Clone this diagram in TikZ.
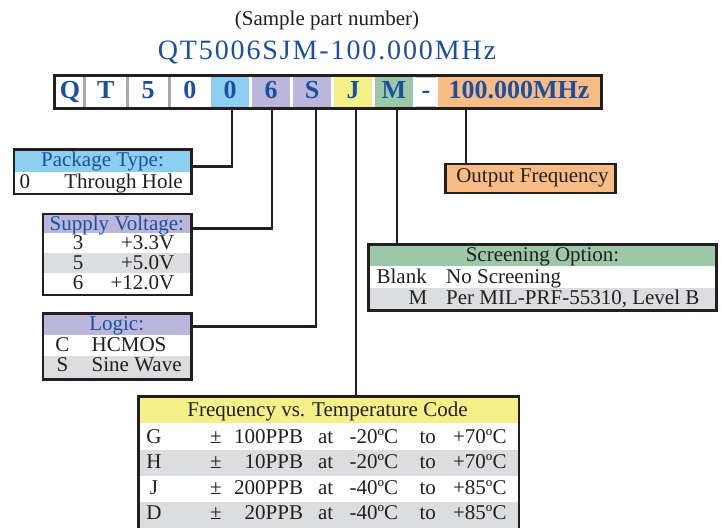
\documentclass[tikz,border=0pt]{standalone}
\usepackage{fontspec}
\setmainfont{Liberation Serif}
\newfontfamily\pnfont[LetterSpace=6.7]{Liberation Serif}

\definecolor{ink}{RGB}{35,31,32}
\definecolor{tblue}{RGB}{28,80,158}
\definecolor{cblue}{RGB}{141,207,240}
\definecolor{cpurple}{RGB}{186,183,218}
\definecolor{cyellow}{RGB}{243,240,138}
\definecolor{cgreen}{RGB}{157,200,168}
\definecolor{corange}{RGB}{249,188,133}
\definecolor{rowgray}{RGB}{220,221,222}
\definecolor{sepgray}{RGB}{167,169,172}

\tikzset{
  wire/.style={draw=ink, line width=2.6pt},
  frame/.style={draw=ink, line width=2.5pt, inner sep=0pt},
  lbl/.style={inner sep=0pt, text=ink, font=\fontsize{21}{25}\selectfont},
  hdr/.style={lbl, text=tblue},
  cell/.style={inner sep=0pt, minimum height=30.6pt, text height=19pt, text depth=6pt,
    text=tblue, font=\fontsize{26}{30}\selectfont\bfseries},
  sepline/.style={draw=sepgray, line width=2.6pt},
  rimline/.style={draw=sepgray!70, line width=1pt}
}

\begin{document}
\begin{tikzpicture}[x=1pt,y=-1pt]
\clip (0,0) rectangle (722,527);
\fill[white] (0,0) rectangle (722,527);

% heading
\node[lbl, anchor=base] (title) at (327,26) {(Sample part number)};
\node[anchor=base, inner sep=0pt, text=tblue, font=\pnfont\fontsize{28}{32}\selectfont] (pn) at (327,59.3) {QT5006SJM-100.000MHz};

% part number bar
\node[cell, minimum width=29pt]   (c1)  at (70,92)     {Q};
\node[cell, minimum width=42.5pt] (c2)  at (105.75,92) {T};
\node[cell, minimum width=42pt]   (c3)  at (148,92)    {5};
\node[cell, minimum width=41.5pt] (c4)  at (189.75,92) {0};
\node[cell, fill=cblue,   minimum width=38pt] (c5) at (230,92) {0};
\node[cell, fill=cpurple, minimum width=38pt] (c6) at (271,92) {6};
\node[cell, fill=cpurple, minimum width=38pt] (c7) at (312,92) {S};
\node[cell, fill=cyellow, minimum width=38pt] (c8) at (353,92) {J};
\node[cell, fill=cgreen,  minimum width=38pt] (c9) at (394,92) {M};
\node[cell, minimum width=20pt]   (c10) at (426,92)    {-};
\node[cell, fill=corange, minimum width=162pt] (c11) at (519,92) {100.000MHz};
\draw[sepline] (c1.north east) -- (c1.south east);
\draw[sepline] (c2.north east) -- (c2.south east);
\draw[sepline] (c3.north east) -- (c3.south east);
\draw[rimline] ([yshift=-1pt]c10.north west) -- ([yshift=-1pt]c10.north east);
\draw[rimline] ([yshift=1pt]c10.south west) -- ([yshift=1pt]c10.south east);
\node[frame, line width=2.7pt, minimum width=546.6pt, minimum height=33.4pt] (bar) at (328,92) {};

% leader start points on the bar
\coordinate (k5)  at (232,108.7);
\coordinate (k6)  at (272,108.7);
\coordinate (k7)  at (316,108.7);
\coordinate (k8)  at (356,108.7);
\coordinate (k9)  at (397,108.7);
\coordinate (k11) at (466,108.7);

% table fills
\fill[cblue]   (13.8,149.7) rectangle (191.3,171.7);
\fill[cpurple] (42.8,213.8) rectangle (191.3,233.3);
\fill[rowgray] (42.8,253.3) rectangle (191.3,273.3);
\fill[cpurple] (42.8,313.7) rectangle (191.3,335);
\fill[rowgray] (42.8,355.7) rectangle (191.3,379.5);
\fill[corange] (445.5,163.8) rectangle (615.3,192.8);
\fill[cgreen]  (368.7,244.7) rectangle (716.3,265.7);
\fill[rowgray] (368.7,287.7) rectangle (716.3,310.7);
\fill[cyellow] (138.7,396.5) rectangle (519.2,423.3);
\fill[rowgray] (138.7,450)   rectangle (519.2,476);
\fill[rowgray] (138.7,501.7) rectangle (519.2,545);

% table frames
\node[frame, minimum width=177.5pt, minimum height=44.3pt]  (pkg) at (102.55,171.85) {};
\node[frame, minimum width=148.5pt, minimum height=81.2pt]  (sup) at (117.05,254.4) {};
\node[frame, minimum width=148.5pt, minimum height=65.8pt]  (log) at (117.05,346.6) {};
\node[frame, minimum width=169.8pt, minimum height=29pt]    (out) at (530.4,178.3) {};
\node[frame, minimum width=347.6pt, minimum height=66pt]    (scr) at (542.5,277.7) {};
\node[frame, minimum width=380.5pt, minimum height=148.5pt] (frq) at (328.95,470.75) {};

% connectors
\draw[wire] (pkg.north east) ++(0,18) -| (k5);
\draw[wire] (sup.north east) ++(0,16) -| (k6);
\draw[wire] (log.north east) ++(0,14) -| (k7);
\draw[wire] (k8) -- (k8 |- frq.north);
\draw[wire] (k9) -- (k9 |- scr.north);
\draw[wire] (k11) -- (k11 |- out.north);

% Package Type
\node[hdr, anchor=base] (pkgh) at (102.5,166.7) {Package Type:};
\node[lbl, anchor=base west] (pkga) at (19.5,188.3) {0};
\node[lbl, anchor=base east] (pkgb) at (183,188.3) {Through Hole};

% Supply Voltage
\node[hdr, anchor=base] (suph) at (116.8,230) {Supply Voltage:};
\node[lbl, anchor=base] (sup1a) at (78,249.3) {3};
\node[lbl, anchor=base east] (sup1b) at (174.5,249.3) {+3.3V};
\node[lbl, anchor=base] (sup2a) at (78,269.3) {5};
\node[lbl, anchor=base east] (sup2b) at (174.5,269.3) {+5.0V};
\node[lbl, anchor=base] (sup3a) at (78,289) {6};
\node[lbl, anchor=base east] (sup3b) at (174.5,289) {+12.0V};

% Logic
\node[hdr, anchor=base] (logh) at (116.7,330) {Logic:};
\node[lbl, anchor=base] (log1a) at (62.5,351) {C};
\node[lbl, anchor=base west] (log1b) at (91.5,351) {HCMOS};
\node[lbl, anchor=base] (log2a) at (62.5,371.7) {S};
\node[lbl, anchor=base west] (log2b) at (91.5,371.7) {Sine Wave};

% Output Frequency
\node[lbl, anchor=base] (outt) at (532.4,182.3) {Output Frequency};

% Screening Option
\node[lbl, anchor=base] (scrh) at (542.5,261.7) {Screening Option:};
\node[lbl, anchor=base east] (scr1a) at (427,283.3) {Blank};
\node[lbl, anchor=base west] (scr1b) at (446,283.3) {No Screening};
\node[lbl, anchor=base east] (scr2a) at (427.5,304) {M};
\node[lbl, anchor=base west] (scr2b) at (446,304) {Per MIL-PRF-55310, Level B};

% Frequency vs. Temperature Code
\node[lbl, anchor=base] (frqh) at (327.5,416.7) {Frequency vs. Temperature Code};
\foreach \code/\ppb/\tlo/\thi/\yy [count=\i] in
  {G/100PPB/-20ºC/+70ºC/443.3, H/10PPB/-20ºC/+70ºC/468.3,
   J/200PPB/-40ºC/+85ºC/494, D/20PPB/-40ºC/+85ºC/519.3}{
  \node[lbl, anchor=base] (fc\i) at (154,\yy) {\code};
  \node[lbl, anchor=base] (fpm\i) at (216,\yy) {±};
  \node[lbl, anchor=base east] (fp\i) at (303.3,\yy) {\ppb};
  \node[lbl, anchor=base] (fat\i) at (325.7,\yy) {at};
  \node[lbl, anchor=base east] (flo\i) at (398.3,\yy) {\tlo};
  \node[lbl, anchor=base] (fto\i) at (427.7,\yy) {to};
  \node[lbl, anchor=base east] (fhi\i) at (506.7,\yy) {\thi};
}
\end{tikzpicture}
\end{document}
